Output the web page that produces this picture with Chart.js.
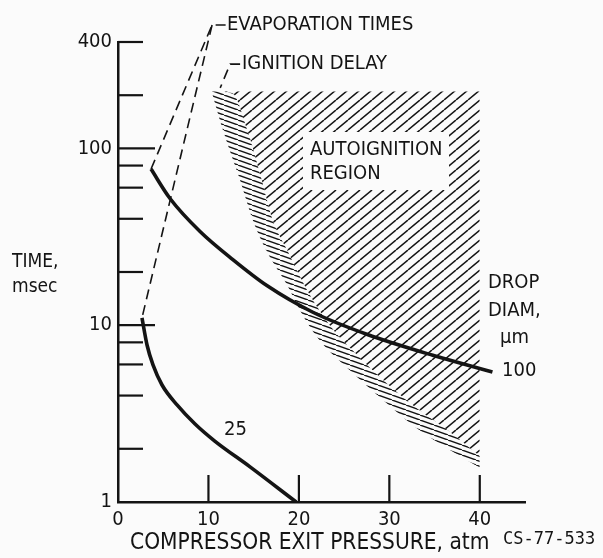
<!DOCTYPE html>
<html>
<head>
<meta charset="utf-8">
<script src="https://cdn.jsdelivr.net/npm/chart.js@4.4.0/dist/chart.umd.min.js"></script>
<style>
  html, body { margin: 0; padding: 0; background: #fbfbfb; }
  #wrap { width: 603px; height: 558px; }
</style>
</head>
<body>
<div id="wrap"><canvas id="chart" width="603" height="558"></canvas></div>
<script>
// axis ticks
const xTicks = [0, 10, 20, 30, 40];
const yTicks = [1, 2, 4, 6, 8, 10, 20, 40, 60, 80, 100, 200, 400];
const yLabeled = [1, 10, 100, 400];

// evaporation time, 100 um drops
const pressure100 = [3.65, 5.75, 9.07, 12.7, 16.5, 21.6, 27.5, 34.8, 41.4];
const time100 = [76.4, 52.1, 33.9, 23.5, 16.7, 11.8, 8.89, 6.76, 5.44];

// evaporation time, 25 um drops
const pressure25 = [2.65, 3.21, 3.87, 4.87, 6.53, 8.52, 10.7, 14.6, 19.7];
const time25 = [11.0, 7.73, 5.96, 4.59, 3.54, 2.76, 2.21, 1.58, 1.0];

// ignition delay (outer edge of the boundary band)
const ignitionP = [10.4, 11.6, 13.5, 14.9, 16.5, 18.7, 20.1, 22.0, 25.6, 29.3, 33.0, 36.7, 40];
const ignitionT = [206, 127, 66, 39.4, 25.9, 16.9, 12.2, 8.58, 5.58, 3.78, 2.62, 1.97, 1.56];

// inner edge of the boundary band
const bandP = [10.4, 12.6, 14.3, 15.9, 17.1, 18.7, 20.5, 22.1, 24.0, 25.9, 29.3, 33.0, 36.7, 40];
const bandT = [210, 206, 127, 66, 39.4, 26.6, 17.3, 12.5, 9.16, 7.24, 4.9, 3.4, 2.49, 1.82];
const regionTop = 210;

// leader lines for the labels
const evapLeaderP = [11.9, 10.4, 3.65];
const evapLeaderT = [499, 499, 76.4];
const evapLeader2P = [10.4, 2.65];
const evapLeader2T = [499, 11];
const ignLeaderP = [13.5, 12.4, 11.3];
const ignLeaderT = [300, 300, 220];

const FONT = '"DejaVu Sans Condensed", "Liberation Sans Narrow", "DejaVu Sans", sans-serif';
const INK = '#141414';

function pts(xs, ys) {
  return xs.map((x, i) => ({ x: x, y: ys[i] }));
}

function hatchPattern(w, h, rising, lw) {
  const c = document.createElement('canvas');
  c.width = w; c.height = h;
  const g = c.getContext('2d');
  g.strokeStyle = INK;
  g.lineWidth = lw;
  for (let k = -w; k <= w; k += w) {
    g.beginPath();
    if (rising) { g.moveTo(k, h); g.lineTo(k + w, 0); }
    else { g.moveTo(k, 0); g.lineTo(k + w, h); }
    g.stroke();
  }
  return g.createPattern(c, 'repeat');
}

const regionHatch = hatchPattern(12, 10, true, 1.5);
const bandHatch = hatchPattern(14, 5, false, 1.4);

const decor = {
  id: 'decor',
  beforeDraw(chart) {
    const ctx = chart.ctx;
    ctx.save();
    ctx.fillStyle = '#fbfbfb';
    ctx.fillRect(0, 0, chart.width, chart.height);
    ctx.restore();
  },
  afterDatasetsDraw(chart) {
    const ctx = chart.ctx;
    const xs = chart.scales.x, ys = chart.scales.y;
    const area = chart.chartArea;
    ctx.save();
    ctx.strokeStyle = INK;
    ctx.lineWidth = 2.2;
    // inside tick marks on the y axis
    yTicks.forEach(v => {
      if (v === 1) return;
      const y = ys.getPixelForValue(v);
      const len = (v === 10 || v === 100) ? 37 : 25;
      ctx.beginPath();
      ctx.moveTo(area.left, y);
      ctx.lineTo(area.left + len, y);
      ctx.stroke();
    });
    // inside tick marks on the x axis
    xTicks.forEach(v => {
      if (v === 0) return;
      const x = xs.getPixelForValue(v);
      ctx.beginPath();
      ctx.moveTo(x, area.bottom);
      ctx.lineTo(x, area.bottom - 27);
      ctx.stroke();
    });

    // white box behind the region label
    ctx.fillStyle = '#fbfbfb';
    ctx.fillRect(303, 132, 146, 58);

    ctx.fillStyle = INK;
    ctx.textBaseline = 'middle';
    ctx.textAlign = 'left';
    ctx.font = '20px ' + FONT;
    ctx.fillText('EVAPORATION TIMES', 227, 25);
    ctx.fillText('IGNITION DELAY', 242, 64);
    ctx.fillText('AUTOIGNITION', 310, 150);
    ctx.fillText('REGION', 310, 174);
    ctx.fillText('DROP', 488, 283);
    ctx.fillText('DIAM,', 488, 311);
    ctx.fillText('\u00b5m', 500, 338);
    ctx.fillText('100', 502, 371);
    ctx.fillText('25', 224, 430);
    ctx.font = '19px ' + FONT;
    ctx.fillText('TIME,', 12, 262);
    ctx.fillText('msec', 12, 287);
    ctx.font = '22.5px ' + FONT;
    ctx.fillText('COMPRESSOR EXIT PRESSURE, atm', 130, 543);
    ctx.font = '17px "DejaVu Sans Mono", monospace';
    ctx.fillText('CS-77-533', 503, 540);
    ctx.restore();
  }
};

const curve = (data, w) => ({
  data: data, borderColor: INK, borderWidth: w, pointRadius: 0,
  fill: false, cubicInterpolationMode: 'monotone'
});
const leader = (data) => ({
  data: data, borderColor: INK, borderWidth: 1.6, borderDash: [10, 6],
  pointRadius: 0, fill: false, tension: 0, clip: false
});

new Chart(document.getElementById('chart'), {
  type: 'line',
  data: {
    datasets: [
      curve(pts(pressure100, time100), 3.6),
      curve(pts(pressure25, time25), 3.6),
      leader(pts(evapLeaderP, evapLeaderT)),
      leader(pts(evapLeader2P, evapLeader2T)),
      leader(pts(ignLeaderP, ignLeaderT)),
      {
        data: pts(ignitionP, ignitionT), borderColor: 'rgba(0,0,0,0)', borderWidth: 1,
        pointRadius: 0, cubicInterpolationMode: 'monotone',
        fill: '+1', backgroundColor: bandHatch
      },
      {
        data: pts(bandP, bandT), borderColor: 'rgba(0,0,0,0)', borderWidth: 1,
        pointRadius: 0, cubicInterpolationMode: 'monotone',
        fill: { value: regionTop }, backgroundColor: regionHatch
      }
    ]
  },
  options: {
    responsive: false,
    animation: false,
    devicePixelRatio: 1,
    layout: { padding: { top: 42, right: 78, left: 0, bottom: 0 } },
    plugins: { legend: { display: false }, tooltip: { enabled: false } },
    scales: {
      x: {
        type: 'linear', min: 0, max: 45,
        afterBuildTicks: s => { s.ticks = xTicks.map(v => ({ value: v })); },
        afterFit: s => { s.height = 56; },
        grid: { display: true, drawOnChartArea: false, drawTicks: false },
        border: { display: true, color: INK, width: 2.5 },
        ticks: { color: INK, font: { family: FONT, size: 20 }, padding: 6, maxRotation: 0, autoSkip: false }
      },
      y: {
        type: 'logarithmic', min: 1, max: 400,
        afterBuildTicks: s => { s.ticks = yTicks.map(v => ({ value: v })); },
        afterFit: s => { s.width = 118; },
        grid: { display: true, drawOnChartArea: false, drawTicks: false },
        border: { display: true, color: INK, width: 2.5 },
        ticks: {
          color: INK, font: { family: FONT, size: 20 }, padding: 6, autoSkip: false,
          callback: v => yLabeled.includes(v) ? String(v) : ''
        }
      }
    }
  },
  plugins: [decor]
});
</script>
</body>
</html>
